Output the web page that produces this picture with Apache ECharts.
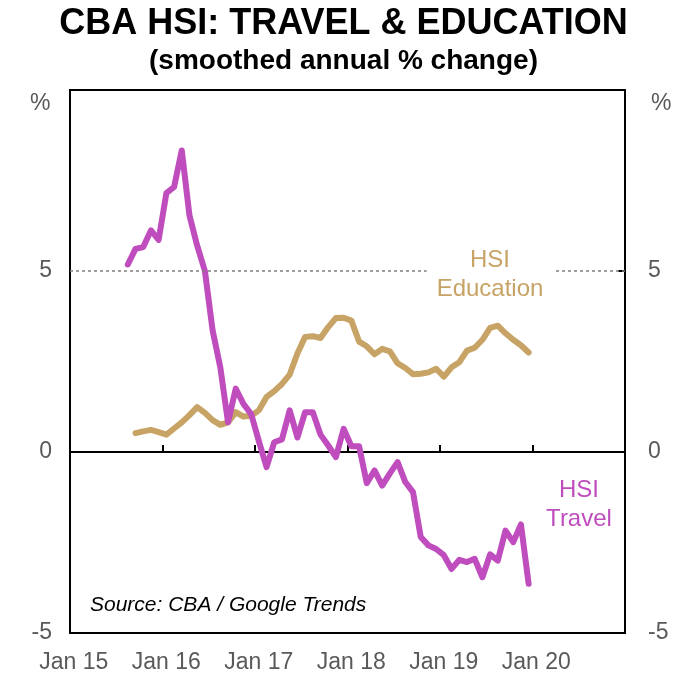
<!DOCTYPE html>
<html>
<head>
<meta charset="utf-8">
<script src="https://cdn.jsdelivr.net/npm/echarts@6/dist/echarts.min.js"></script>
<style>
  html, body { margin: 0; padding: 0; background: #fff; }
  #e_chart_1 { width: 687px; height: 675px; }
</style>
</head>
<body>
<div id="e_chart_1"></div>
<script>
var years = ['15', '16', '17', '18', '19', '20'];
var monthNames = ['Jan', 'Feb', 'Mar', 'Apr', 'May', 'Jun', 'Jul', 'Aug', 'Sep', 'Oct', 'Nov', 'Dec'];

// smoothed annual % change, monthly
var travelStart = 'Aug 15';
var travel = [
    5.18, 5.61, 5.66, 6.12, 5.86,
    7.15, 7.32, 8.33, 6.53, 5.70, 5.00, 3.36, 2.34, 0.82, 1.75, 1.33, 1.05,
    0.30, -0.42, 0.27, 0.35, 1.15, 0.40, 1.10, 1.10, 0.48, 0.18, -0.14, 0.64,
    0.16, 0.16, -0.86, -0.51, -0.93, -0.59, -0.28, -0.83, -1.11, -2.35, -2.58, -2.68,
    -2.85, -3.23, -2.98, -3.04, -2.95, -3.46, -2.83, -3.00, -2.17, -2.49, -2.00, -3.64
];
var educationStart = 'Sep 15';
var education = [
    0.52, 0.57, 0.61, 0.55,
    0.48, 0.65, 0.82, 1.02, 1.24, 1.08, 0.88, 0.75, 0.82, 1.10, 0.98, 1.00,
    1.15, 1.52, 1.68, 1.88, 2.14, 2.72, 3.18, 3.20, 3.15, 3.45, 3.70, 3.71,
    3.63, 3.05, 2.92, 2.70, 2.85, 2.78, 2.45, 2.32, 2.15, 2.16, 2.20, 2.30,
    2.08, 2.34, 2.48, 2.80, 2.88, 3.10, 3.43, 3.49, 3.28, 3.10, 2.95, 2.75
];
var yTicks = [-5, 0, 5];

var categories = [];
years.forEach(function (y) {
    monthNames.forEach(function (m) {
        categories.push(m + ' ' + y);
    });
});

function padSeries(start, values) {
    var out = [];
    var offset = categories.indexOf(start);
    for (var i = 0; i < categories.length; i++) {
        var v = values[i - offset];
        out.push(v === undefined ? null : v);
    }
    return out;
}

var arial = "'Liberation Sans', Arial, sans-serif";
var grey = '#595959';
var tan = '#C8A366';
var magenta = '#BF4DBE';

var dom = document.getElementById('e_chart_1');
var myChart = echarts.init(dom);

var option = {
    animation: false,
    grid: {
        left: 70,
        right: 62,
        top: 90,
        bottom: 42,
        show: true,
        borderColor: '#000',
        borderWidth: 2
    },
    xAxis: [{
        type: 'category',
        data: categories,
        boundaryGap: true,
        axisLine: { onZero: true, lineStyle: { color: '#000', width: 2 } },
        axisTick: { show: true, inside: true, length: 7, interval: 11, lineStyle: { color: '#000', width: 2 } },
        axisLabel: { show: false }
    }, {
        type: 'category',
        data: categories,
        boundaryGap: true,
        position: 'bottom',
        axisLine: { show: false },
        axisTick: { show: false },
        axisLabel: {
            interval: 11,
            margin: 18,
            color: grey,
            fontFamily: arial,
            fontSize: 23
        }
    }],
    yAxis: [{
        type: 'value',
        min: -5,
        max: 10,
        interval: 5,
        axisLine: { show: false },
        axisTick: { show: false },
        splitLine: { show: false },
        axisLabel: {
            margin: 18,
            color: grey,
            fontFamily: arial,
            fontSize: 23,
            formatter: function (v) { return yTicks.indexOf(v) >= 0 ? String(v) : ''; }
        }
    }, {
        type: 'value',
        min: -5,
        max: 10,
        interval: 5,
        position: 'right',
        axisLine: { show: false },
        axisTick: { show: true, inside: true, length: 7, lineStyle: { color: '#000', width: 2 } },
        splitLine: { show: false },
        axisLabel: {
            margin: 23,
            color: grey,
            fontFamily: arial,
            fontSize: 23,
            formatter: function (v) { return yTicks.indexOf(v) >= 0 ? String(v) : ''; }
        }
    }],
    series: [{
        name: 'HSI Education',
        type: 'line',
        xAxisIndex: 0,
        yAxisIndex: 0,
        data: padSeries(educationStart, education),
        symbol: 'none',
        lineStyle: { color: tan, width: 6, cap: 'round', join: 'round' },
        z: 3,
        markLine: {
            silent: true,
            symbol: 'none',
            label: { show: false },
            lineStyle: { color: '#7f7f7f', type: [3, 3], width: 1.5 },
            data: [{ yAxis: 5 }]
        }
    }, {
        name: 'HSI Travel',
        type: 'line',
        xAxisIndex: 0,
        yAxisIndex: 0,
        data: padSeries(travelStart, travel),
        symbol: 'none',
        lineStyle: { color: magenta, width: 6, cap: 'round', join: 'round' },
        z: 4
    }],
    graphic: [{
        type: 'text',
        x: 343.5,
        y: 24,
        style: {
            text: 'CBA HSI: TRAVEL & EDUCATION',
            align: 'center',
            verticalAlign: 'middle',
            fontFamily: arial,
            fontWeight: 'bold',
            fontSize: 36,
            fill: '#000'
        }
    }, {
        type: 'text',
        x: 343.5,
        y: 61,
        style: {
            text: '(smoothed annual % change)',
            align: 'center',
            verticalAlign: 'middle',
            fontFamily: arial,
            fontWeight: 'bold',
            fontSize: 28,
            fill: '#000'
        }
    }, {
        type: 'text',
        left: 30,
        top: 92,
        style: { text: '%', fontFamily: arial, fontSize: 23, fill: grey }
    }, {
        type: 'text',
        left: 651,
        top: 92,
        style: { text: '%', fontFamily: arial, fontSize: 23, fill: grey }
    }, {
        type: 'text',
        x: 490,
        y: 246,
        z: 10,
        style: {
            text: 'HSI\nEducation',
            align: 'center',
            fontFamily: arial,
            fontSize: 24,
            lineHeight: 29,
            fill: tan,
            backgroundColor: '#fff',
            padding: [0, 10]
        }
    }, {
        type: 'text',
        x: 579,
        y: 476,
        z: 10,
        style: {
            text: 'HSI\nTravel',
            align: 'center',
            fontFamily: arial,
            fontSize: 24,
            lineHeight: 29,
            fill: magenta
        }
    }, {
        type: 'text',
        left: 90,
        top: 595,
        style: {
            text: 'Source: CBA / Google Trends',
            fontFamily: arial,
            fontStyle: 'italic',
            fontSize: 21,
            fill: '#000'
        }
    }]
};

if (option && typeof option === 'object') {
    myChart.setOption(option, true);
}
</script>
</body>
</html>
